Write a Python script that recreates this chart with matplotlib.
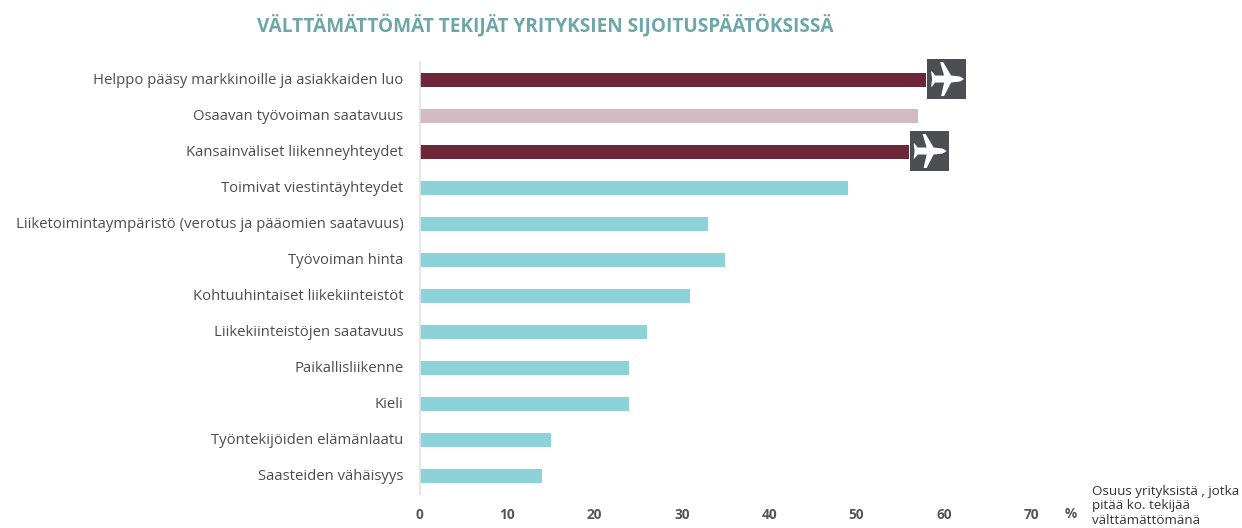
import matplotlib
matplotlib.use("Agg")
import matplotlib.pyplot as plt
from matplotlib.offsetbox import AnnotationBbox, DrawingArea
from matplotlib.patches import Polygon, Rectangle
from matplotlib.transforms import ScaledTranslation

plt.rcParams['font.family'] = ['Open Sans', 'DejaVu Sans']

# Values
factors = ["Helppo pääsy markkinoille ja asiakkaiden luo",
           "Osaavan työvoiman saatavuus",
           "Kansainväliset liikenneyhteydet",
           "Toimivat viestintäyhteydet",
           "Liiketoimintaympäristö (verotus ja pääomien saatavuus)",
           "Työvoiman hinta",
           "Kohtuuhintaiset liikekiinteistöt",
           "Liikekiinteistöjen saatavuus",
           "Paikallisliikenne",
           "Kieli",
           "Työntekijöiden elämänlaatu",
           "Saasteiden vähäisyys"]
shares = [58, 57, 56, 49, 33, 35, 31, 26, 24, 24, 15, 14]
bar_colors = ["#6e2639", "#d3bac2", "#6e2639"] + ["#8dd2d9"] * 9
plane_bars = [0, 2]
x_ticks = [0, 10, 20, 30, 40, 50, 60, 70]

W, H = 1242, 528
fig = plt.figure(figsize=(W / 100, H / 100), dpi=100)

# Axes placed in pixels of the reference
left, right, top, bottom = 419.5, 1031.3, 62, 494
ax = fig.add_axes([left / W, 1 - bottom / H, (right - left) / W, (bottom - top) / H])

ax.barh(range(len(factors)), shares, height=0.38, color=bar_colors)
ax.set_xlim(0, 70)
ax.set_ylim(len(factors) - 0.5, -0.5)

ax.set_yticks(range(len(factors)))
ax.set_yticklabels(factors, fontsize=10.7, color="#4d4d4d")
ax.set_xticks(x_ticks)
ax.set_xticklabels(x_ticks, fontsize=9.8, fontweight="bold", color="#555555")
ax.tick_params(axis="y", length=0, pad=11.5)
ax.tick_params(axis="x", length=0, pad=10)

# Move the category labels up one pixel
for lab in ax.get_yticklabels():
    lab.set_transform(lab.get_transform() + ScaledTranslation(0, 1 / 100, fig.dpi_scale_trans))

for side in ["top", "right", "bottom"]:
    ax.spines[side].set_visible(False)
ax.spines["left"].set_color("#e2e2e2")
ax.spines["left"].set_linewidth(1.2)

# Plane icon outline, in pixels of a 39 x 40 box, y down
plane_outline = [(37, 20), (33, 17.5), (24, 16.5), (16, 3), (13, 3), (17, 16.5), (8, 16.5),
                 (5, 12.5), (4, 12.5), (5, 20), (4, 27.5), (5, 27.5), (8, 23.5), (17, 23.5),
                 (14, 37), (17, 37), (24, 23.5), (33, 22.5)]
px = 0.72

# Plane icons at the end of the dark bars
for i in plane_bars:
    icon = DrawingArea(39 * px, 40 * px, 0, 0)
    icon.add_artist(Rectangle((0, 0), 39 * px, 40 * px, fc="#4b4f54", ec="none"))
    icon.add_artist(Polygon([(a * px, (40 - b) * px) for a, b in plane_outline],
                            fc="white", ec="none"))
    ab = AnnotationBbox(icon, (shares[i], i), xybox=(0.5, 0.7), boxcoords="offset points",
                        box_alignment=(0, 0.5), frameon=False, pad=0,
                        annotation_clip=False, zorder=5)
    ax.add_artist(ab)

fig.text(545 / W, 1 - 25 / H, "VÄLTTÄMÄTTÖMÄT TEKIJÄT YRITYKSIEN SIJOITUSPÄÄTÖKSISSÄ",
         ha="center", va="center", fontsize=13.7, fontweight="bold", color="#6ea6aa")
fig.text(1071 / W, 1 - 514 / H, "%", ha="center", va="center",
         fontsize=9.8, fontweight="bold", color="#555555")
fig.text(1092 / W, 1 - 485 / H, "Osuus yrityksistä , jotka\npitää ko. tekijää\nvälttämättömänä",
         ha="left", va="top", fontsize=9.6, color="#333333", linespacing=1.15)

fig.savefig("out.png", dpi=100)
